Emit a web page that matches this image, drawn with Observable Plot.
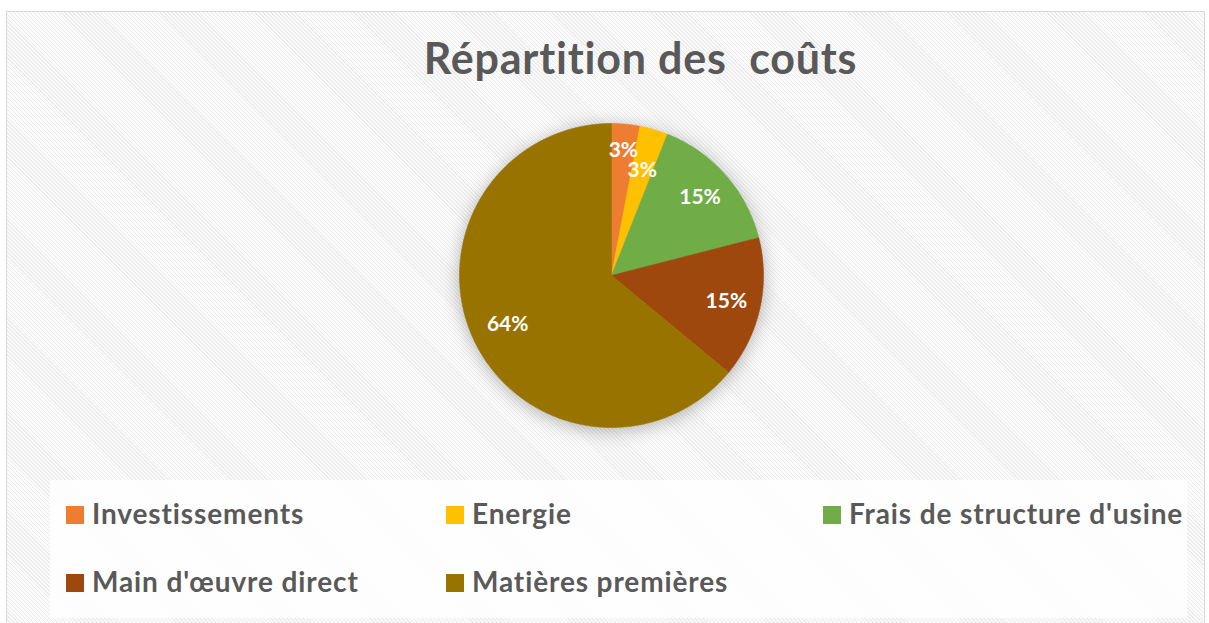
<!DOCTYPE html>
<html>
<head>
<meta charset="utf-8">
<script src="https://cdn.jsdelivr.net/npm/d3@7"></script>
<script src="https://cdn.jsdelivr.net/npm/@observablehq/plot@0.6"></script>
<style>
  html, body { margin: 0; padding: 0; }
  body { width: 1209px; height: 623px; overflow: hidden; background: #ffffff; position: relative; font-family: Lato, "Open Sans", sans-serif; }
  #frame { position: absolute; left: 6px; top: 11px; width: 1197px; height: 640px; border: 1.5px solid #d9d9d9;
    background: repeating-linear-gradient(45deg, #ececec 0px, #ececec 1px, #fbfbfb 1px, #fbfbfb 2.8px); }
  #title { position: absolute; left: 0; width: 1281px; top: 36px; text-align: center; font-weight: 700; font-size: 43px; letter-spacing: 0.8px; line-height: 1; color: #595959; white-space: pre; }
  #chart { position: absolute; left: 411px; top: 75px; }
  #legend { position: absolute; left: 50px; top: 480px; width: 1137px; height: 138px; background: rgba(255,255,255,0.82); }
  .sw { position: absolute; width: 18px; height: 18px; }
  .lt { position: absolute; font-weight: 700; font-size: 28px; letter-spacing: 0.88px; line-height: 1; color: #595959; white-space: pre; }
</style>
</head>
<body>
<div id="frame"></div>
<div id="title"></div>
<div id="chart"></div>
<div id="legend"></div>
<script>
// ---- data ----
const titleText = "Répartition des  coûts";
const categories = ["Investissements", "Energie", "Frais de structure d'usine", "Main d'œuvre direct", "Matières premières"];
const values = [3, 3, 15, 15, 64];
const labels = ["3%", "3%", "15%", "15%", "64%"];
const colors = ["#ED7D31", "#FFC000", "#70AD47", "#9E480E", "#997300"];

// ---- layout constants ----
const labelRadius = [0.826, 0.724, 0.776, 0.774, 0.755];

document.getElementById("title").textContent = titleText;

const slices = d3.pie().sort(null).value(d => d)(values);
const pts = [];
slices.forEach((s, i) => {
  const cat = categories[i];
  pts.push({cat, x: 0, y: 0});
  const n = Math.max(4, Math.ceil((s.endAngle - s.startAngle) / 0.01));
  for (let k = 0; k <= n; k++) {
    const a = s.startAngle + (s.endAngle - s.startAngle) * k / n;
    pts.push({cat, x: Math.sin(a), y: Math.cos(a)});
  }
  pts.push({cat, x: 0, y: 0});
});
const lbl = slices.map((s, i) => {
  const a = (s.startAngle + s.endAngle) / 2;
  return {text: labels[i], x: labelRadius[i] * Math.sin(a), y: labelRadius[i] * Math.cos(a)};
});

const svg = Plot.plot({
  width: 400,
  height: 400,
  margin: 0,
  style: {background: "transparent", fontFamily: "Lato, 'Open Sans', sans-serif", overflow: "visible"},
  x: {domain: [-1, 1], range: [48, 352], axis: null},
  y: {domain: [-1, 1], range: [352, 48], axis: null},
  color: {domain: categories, range: colors},
  marks: [
    Plot.line(pts, {x: "x", y: "y", z: "cat", fill: "cat", stroke: "cat", strokeWidth: 0.6, curve: "linear"}),
    Plot.text(lbl, {x: "x", y: "y", text: "text", fill: "white", fontSize: 21, fontWeight: "bold"})
  ]
});
const lineG = svg.querySelector('g[aria-label="line"]');
if (lineG) lineG.style.filter = "drop-shadow(0px 3px 9px rgba(0,0,0,0.28))";
document.getElementById("chart").appendChild(svg);

// ---- legend ----
const legend = document.getElementById("legend");
const colX = [16, 396, 773];
const swTop = [26, 94];
const txtTop = [19, 87];
categories.forEach((c, i) => {
  const col = i % 3, row = Math.floor(i / 3);
  const sw = document.createElement("div");
  sw.className = "sw";
  sw.style.left = colX[col] + "px";
  sw.style.top = swTop[row] + "px";
  sw.style.background = colors[i];
  legend.appendChild(sw);
  const t = document.createElement("div");
  t.className = "lt";
  t.style.left = (colX[col] + 26) + "px";
  t.style.top = txtTop[row] + "px";
  t.textContent = c;
  legend.appendChild(t);
});
</script>
</body>
</html>
